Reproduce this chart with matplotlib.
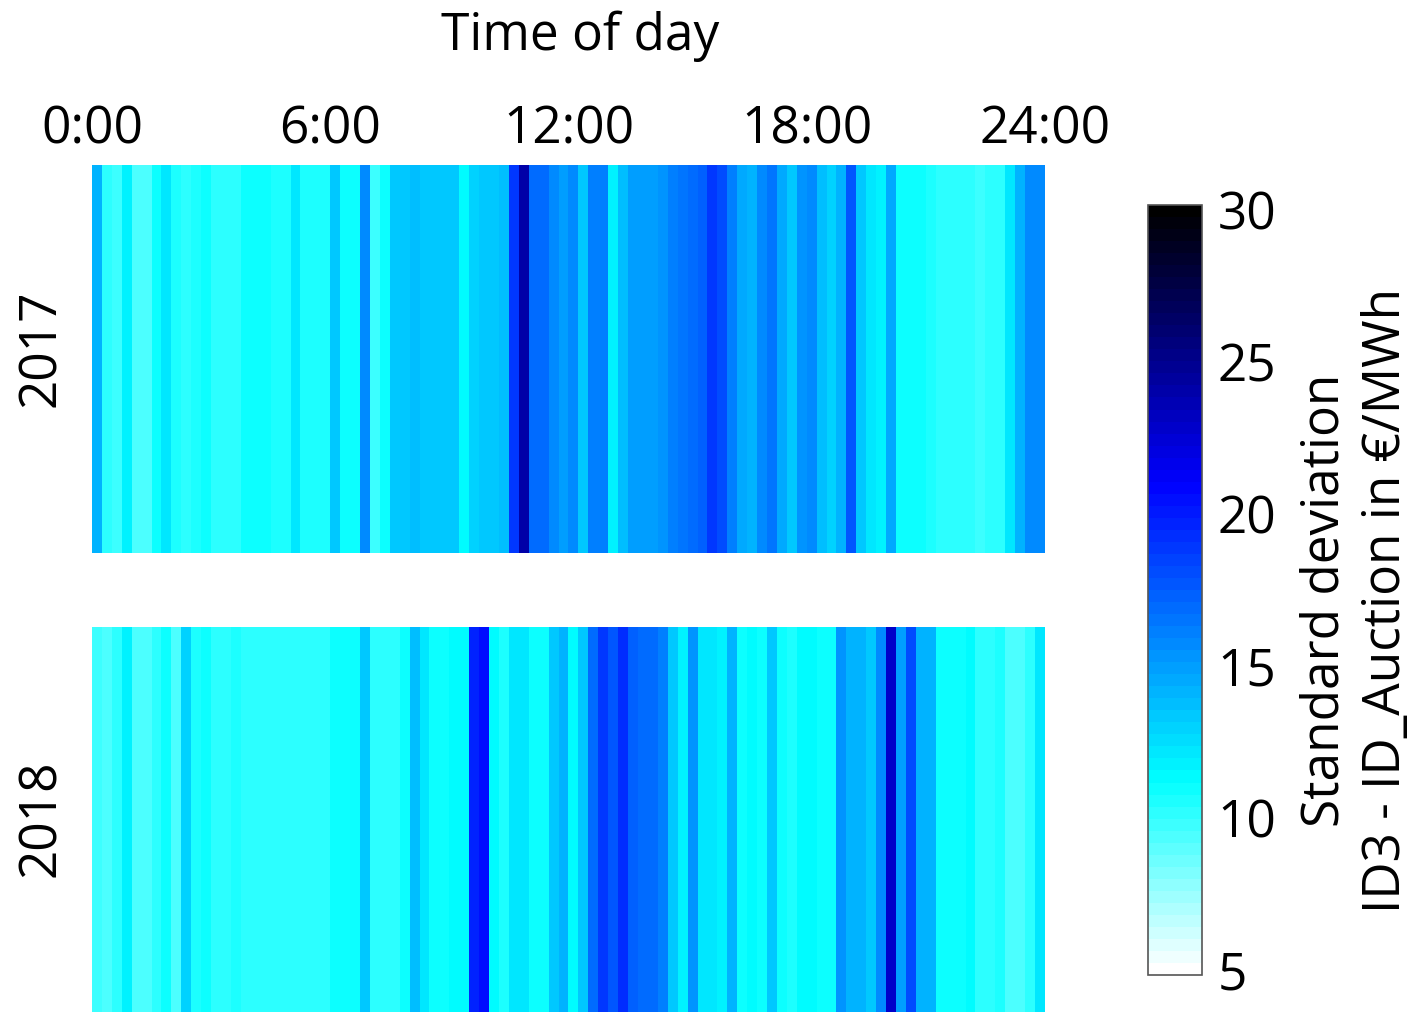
import numpy as np
import matplotlib
matplotlib.use("Agg")
import matplotlib.pyplot as plt
from matplotlib.colors import LinearSegmentedColormap, Normalize

plt.rcParams['font.family'] = ['Open Sans', 'DejaVu Sans']

# Standard deviation of (ID3 - ID_Auction) per quarter-hour, in EUR/MWh
std_2017 = [
    14.0, 10.1, 9.8, 11.8, 9.5, 9.5, 11.0, 12.2, 10.7, 10.2, 10.5, 11.0,
    10.2, 10.2, 10.2, 11.0, 11.0, 11.0, 10.5, 10.5, 12.2, 10.5, 10.5, 10.5,
    13.3, 11.0, 11.0, 15.6, 9.9, 10.8, 13.2, 13.4, 13.7, 13.4, 13.2, 13.4,
    13.2, 11.3, 12.9, 13.2, 13.4, 13.7, 18.7, 24.0, 16.9, 16.9, 15.6, 15.0,
    15.6, 13.3, 16.2, 16.2, 11.9, 13.7, 15.0, 15.1, 15.0, 15.3, 16.2, 16.5,
    16.9, 17.2, 18.7, 18.1, 16.2, 14.7, 14.1, 15.9, 16.5, 14.7, 13.4, 15.3,
    15.6, 13.7, 12.9, 14.1, 17.5, 13.4, 12.2, 11.8, 14.7, 11.0, 11.0, 10.8,
    10.5, 10.0, 10.0, 10.2, 10.0, 9.7, 10.0, 10.2, 12.2, 14.1, 15.6, 15.6,
]
std_2018 = [
    9.7, 9.3, 10.0, 11.9, 9.3, 9.3, 10.0, 11.0, 9.3, 12.9, 10.5, 10.8,
    10.2, 10.2, 10.5, 10.2, 10.0, 10.0, 10.1, 10.1, 10.2, 10.2, 10.0, 10.2,
    11.0, 10.8, 10.8, 13.4, 10.2, 10.0, 10.0, 10.8, 13.7, 12.2, 11.0, 10.8,
    11.5, 11.5, 19.5, 20.3, 11.3, 10.5, 12.2, 12.2, 11.0, 11.0, 13.2, 14.1,
    11.5, 13.2, 16.9, 18.7, 17.5, 19.4, 17.2, 16.9, 16.9, 16.2, 13.4, 11.8,
    15.3, 12.2, 12.0, 11.8, 14.3, 11.0, 11.3, 10.8, 13.2, 11.0, 10.5, 11.3,
    11.3, 11.0, 11.0, 15.3, 14.1, 14.1, 13.2, 15.9, 22.7, 15.0, 18.1, 14.1,
    14.1, 11.0, 10.8, 11.0, 11.3, 10.2, 10.0, 10.5, 9.5, 9.5, 10.2, 12.2,
]
years = ["2017", "2018"]
hour_ticks = [0, 6, 12, 18, 24]
hour_labels = ["0:00", "6:00", "12:00", "18:00", "24:00"]
cbar_ticks = [5, 10, 15, 20, 25, 30]
vmin, vmax = 4.84, 30.16

# white -> cyan -> blue -> black, in 64 discrete steps
cmap = LinearSegmentedColormap.from_list(
    "white_cyan_blue_black",
    [(0.0, (1, 1, 1)), (0.25, (0, 1, 1)), (0.64, (0, 0, 1)), (1.0, (0, 0, 0))],
    N=64,
)
norm = Normalize(vmin=vmin, vmax=vmax)

W, H = 1416, 1013
fig = plt.figure(figsize=(W / 100, H / 100), dpi=100)

def frac_box(x0, y0, x1, y1):
    return [x0 / W, 1 - y1 / H, (x1 - x0) / W, (y1 - y0) / H]

boxes = [frac_box(92, 165, 1045, 553), frac_box(92, 627, 1045, 1012)]
label_y = [348, 818]
fs = 37

for i, (year, vals) in enumerate(zip(years, [std_2017, std_2018])):
    ax = fig.add_axes(boxes[i])
    data = np.asarray(vals)[np.newaxis, :]
    ax.imshow(data, cmap=cmap, norm=norm, aspect="auto",
              extent=[0, 24, 0, 1], interpolation="nearest")
    ax.set_xlim(0, 24)
    ax.set_ylim(0, 1)
    ax.set_yticks([])
    for s in ax.spines.values():
        s.set_visible(False)
    if i == 0:
        ax.set_xticks(hour_ticks)
        ax.set_xticklabels(hour_labels, fontsize=fs)
        ax.tick_params(axis="x", top=True, labeltop=True, bottom=False,
                       labelbottom=False, length=0, pad=7)
    else:
        ax.set_xticks([])
    fig.text(42 / W, 1 - label_y[i] / H, year, fontsize=fs, rotation=90,
             ha="center", va="center")

fig.text(580 / W, 1 - 36 / H, "Time of day", fontsize=fs,
         ha="center", va="center")

cax = fig.add_axes(frac_box(1148, 205, 1202, 975))
sm = matplotlib.cm.ScalarMappable(norm=norm, cmap=cmap)
cb = fig.colorbar(sm, cax=cax, ticks=cbar_ticks)
cb.ax.tick_params(labelsize=fs, length=0, pad=11)
cb.outline.set_edgecolor("#555555")
cb.outline.set_linewidth(1.2)

fig.text(1356 / W, 1 - 600 / H,
         "Standard deviation\nID3 - ID_Auction in €/MWh",
         fontsize=fs, rotation=90, ha="center", va="center",
         multialignment="center", linespacing=1.27)

fig.savefig("out.png", dpi=100)
